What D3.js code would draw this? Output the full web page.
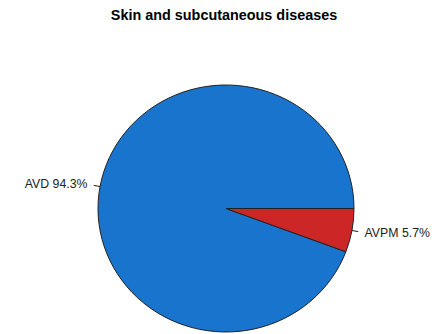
<!DOCTYPE html>
<html><head><meta charset="utf-8">
<script src="https://cdn.jsdelivr.net/npm/d3@7"></script>
<style>body{margin:0;background:#fff}svg{display:block}</style>
</head><body>
<script>
const categories = ["AVD", "AVPM"];
const values = [94.3, 5.7];
const colors = ["#1874CD", "#CD2626"];
const title = "Skin and subcutaneous diseases";

const W = 436, H = 334;
const cx = 226, cy = 208.5, rx = 128, ry = 123.5;
const svg = d3.select("body").append("svg").attr("width", W).attr("height", H);

svg.append("text").attr("x", 224).attr("y", 20).attr("text-anchor", "middle")
  .attr("font-family", "Liberation Sans, Arial, sans-serif").attr("font-weight", "bold")
  .attr("font-size", 14.4).attr("fill", "#000").text(title);

const pie = d3.pie().sort(null).startAngle(Math.PI / 2).endAngle(Math.PI / 2 - 2 * Math.PI);
const arcs = pie(values);
const arc = d3.arc().innerRadius(0).outerRadius(rx);

const g = svg.append("g").attr("transform", `translate(${cx},${cy}) scale(1,${ry / rx})`);
g.selectAll("path").data(arcs).enter().append("path")
  .attr("d", arc).attr("fill", (d, i) => colors[i])
  .attr("stroke", "#222").attr("stroke-width", 1).attr("vector-effect", "non-scaling-stroke");

arcs.forEach((d, i) => {
  const a = (d.startAngle + d.endAngle) / 2; // d3 angle: 0 at top, clockwise
  const ux = Math.sin(a), uy = -Math.cos(a);
  svg.append("line")
    .attr("x1", cx + ux * rx).attr("y1", cy + uy * ry)
    .attr("x2", cx + ux * rx * 1.05).attr("y2", cy + uy * ry * 1.05)
    .attr("stroke", "#222").attr("stroke-width", 1);
  const pct = (values[i] / d3.sum(values) * 100).toFixed(1);
  svg.append("text")
    .attr("x", cx + ux * rx * 1.1).attr("y", cy + uy * ry * 1.1 + 4)
    .attr("text-anchor", ux < 0 ? "end" : "start")
    .attr("font-family", "Liberation Sans, Arial, sans-serif").attr("font-size", 12.3)
    .attr("fill", "#222").text(`${categories[i]} ${pct}%`);
});
</script>
</body></html>
